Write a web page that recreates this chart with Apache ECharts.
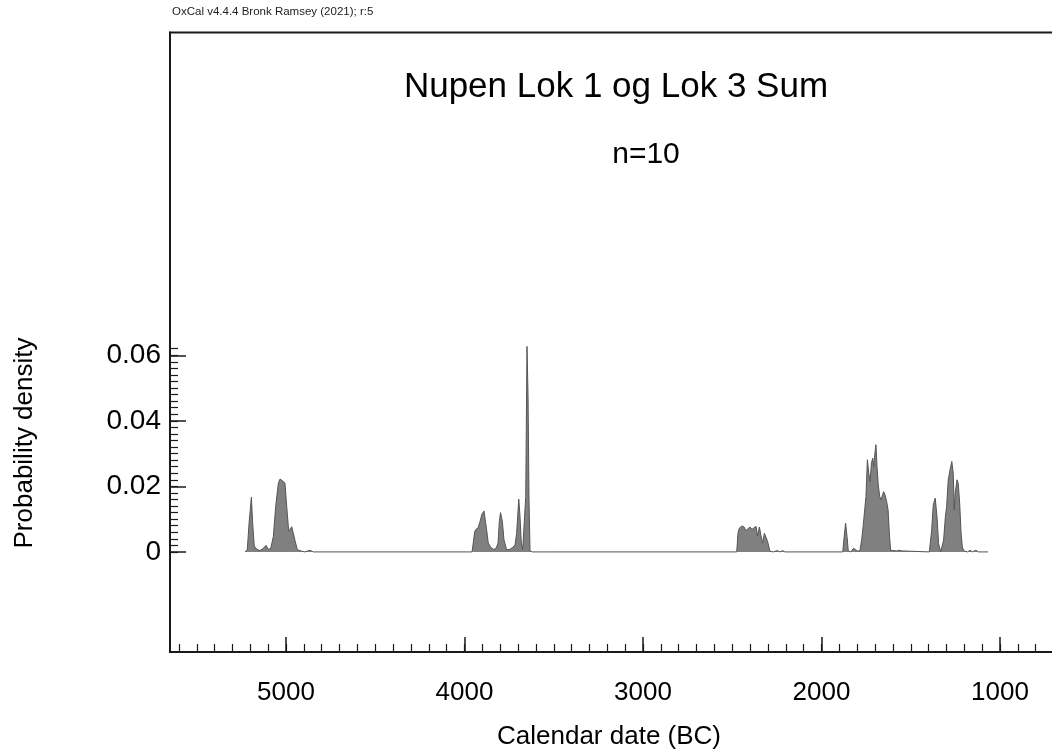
<!DOCTYPE html>
<html>
<head>
<meta charset="utf-8">
<script src="https://cdn.jsdelivr.net/npm/echarts@6/dist/echarts.min.js"></script>
<style>
html,body{margin:0;padding:0;background:#fff;}
#chart{width:1052px;height:751px;}
</style>
</head>
<body>
<div id="chart"></div>
<script>
// Calendar years (BC) and summed probability density
const years = [
  5230,5217,5207,5194,5187,5178,5164,5146,5127,5112,5099,5086,5071,5058,5043,5034,5022,5015,5006,4996,
  4987,4982,4968,4959,4948,4937,4912,4894,4866,4847,
  3958,3951,3943,3936,3924,3913,3902,3891,3883,3876,3867,3853,3839,3824,3812,3805,3798,3788,3779,3764,
  3745,3730,3717,3708,3696,3689,3682,3674,3665,3657,3650,3644,3639,3633,3620,3555,3549,3540,
  2475,2468,2461,2447,2434,2423,2412,2401,2389,2378,2367,2358,2348,2339,2330,2320,2311,2302,2289,2270,
  2248,2233,2218,2205,
  1881,1873,1865,1857,1850,1836,1821,1810,1799,1785,1775,1766,1758,1751,1743,1735,1728,1720,1713,1707,
  1702,1695,1689,1682,1674,1667,1659,1652,1644,1635,1627,1620,1613,1605,1579,1564,1549,1538,
  1396,1383,1374,1363,1353,1344,1332,1324,1316,1306,1299,1290,1280,1270,1262,1256,1251,1241,1234,1226,
  1218,1211,1202,1182,1168,1154,1136,1120,1067
];
const density = [
  0,0.0006,0.0088,0.0167,0.0088,0.0018,0.0008,0.0004,0.0011,0.0020,0.0008,0.0010,0.0047,0.0138,0.0210,0.0222,0.0218,0.0222,0.0210,0.0138,
  0.0077,0.0063,0.0077,0.0072,0.0031,0.0007,0.0002,0,0.0005,0,
  0,0.0027,0.0062,0.0069,0.0073,0.0093,0.0116,0.0125,0.0122,0.0067,0.0027,0.0014,0.0008,0.0010,0.0027,0.0093,0.0120,0.0093,0.0037,0.0006,
  0.0008,0.0014,0.0021,0.0057,0.0161,0.0108,0.0027,0.0008,0.0010,0.0169,0.0627,0.0474,0.0169,0.0003,0,0,0.0005,0,
  0,0.0057,0.0072,0.0079,0.0076,0.0065,0.0069,0.0076,0.0069,0.0073,0.0078,0.0049,0.0076,0.0050,0.0027,0.0057,0.0057,0.0032,0.0002,0,
  0.0004,0,0.0004,0,
  0,0.0047,0.0088,0.0047,0.0003,0,0.0011,0.0014,0.0003,0.0003,0.0037,0.0082,0.0088,0.0169,0.0281,0.0240,0.0215,0.0271,0.0286,0.0260,
  0.0296,0.0327,0.0260,0.0205,0.0169,0.0159,0.0162,0.0184,0.0174,0.0154,0.0128,0.0057,0.0005,0,0.0003,0.0005,0.0003,0,
  0,0.0065,0.0143,0.0164,0.0108,0.0025,0,0.0003,0.0036,0.0108,0.0138,0.0220,0.0250,0.0276,0.0240,0.0128,0.0179,0.0220,0.0209,0.0149,
  0.0057,0.0015,0.0003,0,0.0005,0,0.0005,0,0
];
const xMajorTicks = [5000, 4000, 3000, 2000, 1000];
const xMinorTicks = [];
for (let v = 5600; v >= 700; v -= 100) xMinorTicks.push(v);
const yMajorTicks = [0, 0.02, 0.04, 0.06];
const yMinorTicks = [];
for (let i = 0; i <= 31; i++) yMinorTicks.push(+(i * 0.002).toFixed(3));

const titleText = 'Nupen Lok 1 og Lok 3 Sum';
const subText = 'n=10';
const headerText = 'OxCal v4.4.4 Bronk Ramsey (2021); r:5';
const xName = 'Calendar date (BC)';
const yName = 'Probability density';

const FONT = "'Liberation Sans', Arial, sans-serif";
const AX = '#1a1a1a';
const X_MIN = 600, X_MAX = 5650;
const Y_MIN = -0.030534, Y_MAX = 0.158473;

const chart = echarts.init(document.getElementById('chart'), null, {renderer: 'canvas'});
const pairs = years.map((y, i) => [y, density[i]]);

chart.setOption({
  animation: false,
  backgroundColor: '#ffffff',
  grid: {
    left: 170, top: 32.5, width: 901.4, height: 619.5,
    outerBoundsMode: 'none', containLabel: false,
    show: true, borderColor: AX, borderWidth: 2, backgroundColor: 'transparent'
  },
  xAxis: [
    {
      type: 'value', min: X_MIN, max: X_MAX, inverse: true, position: 'bottom',
      splitLine: {show: false},
      axisLine: {show: true, onZero: false, lineStyle: {color: AX, width: 2}},
      axisTick: {show: true, inside: true, length: 15, customValues: xMajorTicks, lineStyle: {color: AX, width: 1.5}},
      axisLabel: {show: true, customValues: xMajorTicks, margin: 28, fontSize: 26, fontFamily: FONT, color: '#000',
        formatter: v => String(v)}
    },
    {
      type: 'value', min: X_MIN, max: X_MAX, inverse: true, position: 'bottom',
      splitLine: {show: false},
      axisLine: {show: false, onZero: false},
      axisTick: {show: true, inside: true, length: 8, customValues: xMinorTicks, lineStyle: {color: AX, width: 1.2}},
      axisLabel: {show: false}
    }
  ],
  yAxis: [
    {
      type: 'value', min: Y_MIN, max: Y_MAX, position: 'left',
      splitLine: {show: false},
      axisLine: {show: true, onZero: false, lineStyle: {color: AX, width: 2}},
      axisTick: {show: true, inside: true, length: 16, customValues: yMajorTicks, lineStyle: {color: AX, width: 1.5}},
      axisLabel: {show: true, customValues: yMajorTicks, margin: 9, fontSize: 28, fontFamily: FONT, color: '#000',
        formatter: v => (v === 0 ? '0' : v.toFixed(2))}
    },
    {
      type: 'value', min: Y_MIN, max: Y_MAX, position: 'left',
      splitLine: {show: false},
      axisLine: {show: false, onZero: false},
      axisTick: {show: true, inside: true, length: 8, customValues: yMinorTicks, lineStyle: {color: AX, width: 1.2}},
      axisLabel: {show: false}
    }
  ],
  series: [{
    type: 'line',
    xAxisIndex: 0, yAxisIndex: 0,
    data: pairs,
    showSymbol: false,
    smooth: false,
    lineStyle: {color: '#555555', width: 1},
    areaStyle: {color: '#808080', opacity: 1, origin: 0},
    z: 1
  }],
  graphic: [
    {type: 'text', x: 172, y: 12, style: {text: headerText, font: '11.5px ' + FONT, fill: '#222', textAlign: 'left', textVerticalAlign: 'middle', align: 'left', verticalAlign: 'middle'}},
    {type: 'text', x: 616, y: 87, style: {text: titleText, font: '35px ' + FONT, fill: '#000', textAlign: 'center', textVerticalAlign: 'middle', align: 'center', verticalAlign: 'middle'}},
    {type: 'text', x: 646, y: 155, style: {text: subText, font: '30px ' + FONT, fill: '#000', textAlign: 'center', textVerticalAlign: 'middle', align: 'center', verticalAlign: 'middle'}},
    {type: 'text', x: 609, y: 737, style: {text: xName, font: '26px ' + FONT, fill: '#000', textAlign: 'center', textVerticalAlign: 'middle', align: 'center', verticalAlign: 'middle'}},
    {type: 'text', x: 25, y: 443, rotation: Math.PI / 2, style: {text: yName, font: '26px ' + FONT, fill: '#000', textAlign: 'center', textVerticalAlign: 'middle', align: 'center', verticalAlign: 'middle'}}
  ]
});
</script>
</body>
</html>
